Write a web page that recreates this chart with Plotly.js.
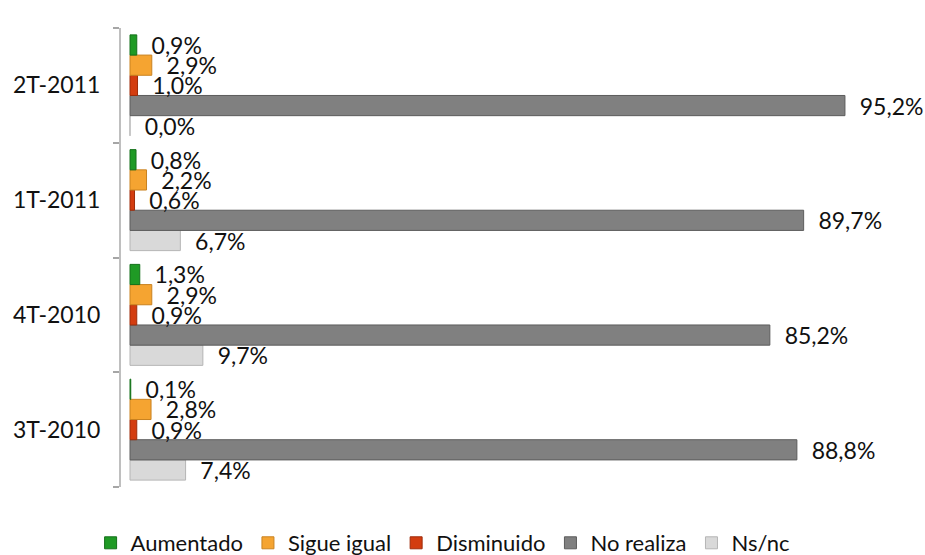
<!DOCTYPE html>
<html>
<head>
<meta charset="utf-8">
<script src="https://cdn.plot.ly/plotly-3.0.1.min.js"></script>
<style>html,body{margin:0;padding:0;background:#fff;}#chart{width:925px;height:555px;}</style>
</head>
<body>
<div id="chart"></div>
<script>
// Categories (bottom to top)
const categories = ['3T-2010', '4T-2010', '1T-2011', '2T-2011'];
// Series values (%) in the same category order
const aumentado  = [0.1, 1.3, 0.8, 0.9];
const sigueIgual = [2.8, 2.9, 2.2, 2.9];
const disminuido = [0.9, 0.9, 0.6, 1.0];
const noRealiza  = [88.8, 85.2, 89.7, 95.2];
const nsnc       = [7.4, 9.7, 6.7, 0.0];
const seriesNames = ['Aumentado', 'Sigue igual', 'Disminuido', 'No realiza', 'Ns/nc'];

const colors = ['#1f9a25', '#f5a431', '#d33d10', '#808080', '#d9d9d9'];
const lineColors = ['#14701a', '#c98220', '#9e2c0a', '#5c5c5c', '#b5b5b5'];
const values = [aumentado, sigueIgual, disminuido, noRealiza, nsnc];

const font = 'Lato, "Open Sans", "Liberation Sans", sans-serif';
const traces = [];
// add in reverse so that Aumentado is drawn at the top of each group
for (let i = values.length - 1; i >= 0; i--) {
  traces.push({
    type: 'bar',
    orientation: 'h',
    name: seriesNames[i],
    y: categories,
    x: values[i],
    marker: {color: colors[i], line: {color: lineColors[i], width: 1}},
    texttemplate: '\u00a0\u00a0%{x:.1f}%',
    textposition: 'outside',
    constraintext: 'none',
    cliponaxis: false,
    textfont: {family: font, size: 23, color: '#111'},
    hoverinfo: 'skip'
  });
}

const layout = {
  width: 925, height: 555,
  margin: {l: 121, r: 44, t: 28, b: 68, autoexpand: false},
  paper_bgcolor: '#fff', plot_bgcolor: '#fff',
  separators: ',.',
  barmode: 'group',
  bargap: 0.12,
  bargroupgap: 0,
  showlegend: true,
  legend: {
    orientation: 'h', traceorder: 'reversed',
    x: -0.04, xanchor: 'left', y: -0.122, yanchor: 'middle',
    font: {family: font, size: 22, color: '#111'}
  },
  xaxis: {
    range: [-1.2, 100], visible: false, showgrid: false, zeroline: false, fixedrange: true
  },
  yaxis: {
    type: 'category', categoryorder: 'array', categoryarray: categories,
    showline: true, linecolor: '#bfbfbf', linewidth: 2,
    ticks: 'outside', ticklen: 6, tickcolor: '#a6a6a6', tickwidth: 2,
    tickson: 'boundaries', showgrid: false, zeroline: false,
    ticklabelstandoff: 14,
    tickfont: {family: font, size: 23, color: '#111'}
  }
};

Plotly.newPlot('chart', traces, layout, {displayModeBar: false, staticPlot: true});
</script>
</body>
</html>
